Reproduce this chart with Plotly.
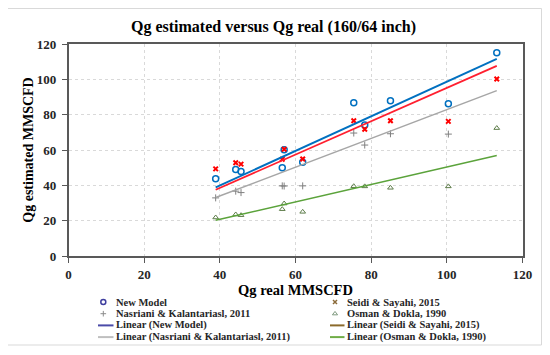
import plotly.graph_objects as go

# ---------------- data ----------------
x_real = [38.9, 44.2, 45.6, 56.5, 57.0, 61.9, 75.4, 78.3, 85.1, 100.4, 113.2]
new_model = [43.7, 49.0, 47.9, 49.9, 60.2, 53.0, 86.8, 74.1, 87.9, 86.2, 115.1]
seidi = [49.3, 52.8, 52.0, 54.8, 60.4, 54.9, 76.6, 71.7, 76.6, 76.2, 100.2]
nasriani = [32.9, 36.7, 35.9, 39.7, 39.6, 39.7, 69.6, 62.8, 69.2, 69.0, None]
osman = [21.8, 23.5, 23.1, 26.5, 29.7, 25.0, 39.5, 39.4, 38.6, 39.4, 72.4]

trend_x = [38.9, 113.2]
trend_new = [38.8, 111.6]
trend_seidi = [37.5, 107.6]
trend_nasriani = [33.1, 93.6]
trend_osman = [20.2, 56.9]

series_names = ["New Model", "Seidi & Sayahi, 2015",
                "Nasriani & Kalantariasl, 2011", "Osman & Dokla, 1990"]
x_ticks = [0, 20, 40, 60, 80, 100, 120]
y_ticks = [0, 20, 40, 60, 80, 100, 120]

title_text = "Qg estimated versus Qg real (160/64 inch)"
x_title = "Qg real MMSCFD"
y_title = "Qg estimated MMSCFD"

# ---------------- styling ----------------
PAGE_MARGIN = 8          # default body margin of the html page
W, H = 550 - 2 * PAGE_MARGIN, 355 - 2 * PAGE_MARGIN
FONT = "Liberation Serif"
AX = "#595959"
CLEAR = "rgba(0,0,0,0)"

def fx(px):  # screen pixel -> paper fraction
    return (px - PAGE_MARGIN) / W

def fy(py):
    return (H - (py - PAGE_MARGIN)) / H

def gx(px):  # screen pixel -> overlay-axis pixel
    return px - PAGE_MARGIN

def gy(py):
    return py - PAGE_MARGIN

plot_l, plot_r, plot_t, plot_b = 68.5, 522.5, 44.0, 256.0

marker_styles = [
    dict(symbol="circle-open", size=6, color="#0070C0", line=dict(width=1.5, color="#0070C0")),
    dict(symbol="x-thin-open", size=4.5, color="#FF0000", line=dict(width=2, color="#FF0000")),
    dict(symbol="cross-thin-open", size=5, color="#808080", line=dict(width=1, color="#808080")),
    dict(symbol="triangle-up-open", size=5, color="#5E7D4A", line=dict(width=1, color="#5E7D4A")),
]
line_styles = [
    dict(color="#0070C0", width=2),
    dict(color="#FF1F2F", width=1.8),
    dict(color="#A6A6A6", width=1.5),
    dict(color="#5BA33B", width=1.5),
]

fig = go.Figure()

series_values = [new_model, seidi, nasriani, osman]
trend_values = [trend_new, trend_seidi, trend_nasriani, trend_osman]

for name, vals, ms in zip(series_names, series_values, marker_styles):
    fig.add_trace(go.Scatter(x=x_real, y=vals, mode="markers", name=name,
                             marker=ms, showlegend=False))
for name, vals, ls in zip(series_names, trend_values, line_styles):
    fig.add_trace(go.Scatter(x=trend_x, y=vals, mode="lines", name="Linear (" + name + ")",
                             line=ls, showlegend=False))

# ---------------- legend (2 columns x 4 rows, compact like the original) ----------------
legend_marker_styles = [
    dict(symbol="circle-open", size=5, color="#3F3F9F", line=dict(width=1.5, color="#3F3F9F")),
    dict(symbol="x-thin-open", size=4, color="#8B6B3A", line=dict(width=1.5, color="#8B6B3A")),
    dict(symbol="cross-thin-open", size=4, color="#8C8C8C", line=dict(width=1, color="#8C8C8C")),
    dict(symbol="triangle-up-open", size=4.5, color="#7F9A7F", line=dict(width=1, color="#7F9A7F")),
]
legend_line_colors = ["#4B4BA8", "#8B6A2B", "#BFBFBF", "#70AD47"]

legend_entries = []
for i in range(4):
    legend_entries.append(("marker", series_names[i], i))
for i in range(4):
    legend_entries.append(("line", "Linear (" + series_names[i] + ")", i))

col_marker_x = [103.3, 335.0]
col_line_x = [(98.0, 113.5), (330.0, 344.5)]
col_text_x = [115.0, 346.0]
row_y = [302.0, 313.7, 325.4, 337.1]

for k, (kind, label, i) in enumerate(legend_entries):
    row, col = divmod(k, 2)
    yy = row_y[row]
    if kind == "marker":
        fig.add_trace(go.Scatter(x=[gx(col_marker_x[col])], y=[gy(yy)], mode="markers",
                                 marker=legend_marker_styles[i], xaxis="x2", yaxis="y2",
                                 showlegend=False, hoverinfo="skip"))
    else:
        x0, x1 = col_line_x[col]
        fig.add_trace(go.Scatter(x=[gx(x0), gx(x1)], y=[gy(yy), gy(yy)], mode="lines",
                                 line=dict(color=legend_line_colors[i], width=2),
                                 xaxis="x2", yaxis="y2", showlegend=False, hoverinfo="skip"))
    fig.add_annotation(x=fx(col_text_x[col]), y=fy(yy), xref="paper", yref="paper",
                       text="<b>" + label + "</b>", showarrow=False,
                       xanchor="left", yanchor="middle", borderpad=0,
                       font=dict(family=FONT, size=10.5, color="#262626"))

# chart-area border
fig.add_shape(type="rect", xref="paper", yref="paper",
              x0=fx(7.5), x1=fx(541.5), y0=fy(345), y1=fy(8.5),
              line=dict(color="#D9D9D9", width=1), layer="below")

axis_common = dict(
    showline=True, linecolor=AX, linewidth=1.5, mirror=True,
    ticks="outside", ticklen=5, tickcolor=AX, tickwidth=1,
    showgrid=True, gridcolor="#D9D9D9", griddash="dot", gridwidth=1,
    zeroline=False, automargin=False,
    tickfont=dict(family=FONT, size=13, color="#262626"),
)

fig.update_layout(
    width=W, height=H,
    margin=dict(l=0, r=0, t=0, b=0),
    paper_bgcolor="white", plot_bgcolor=CLEAR,
    showlegend=False,
    title=dict(text="<b>" + title_text + "</b>", x=fx(273.5), y=fy(26),
               xanchor="center", yanchor="middle", automargin=False,
               font=dict(family=FONT, size=16, color="#000000")),
    xaxis=dict(domain=[fx(plot_l), fx(plot_r)], range=[0, 120],
               tickvals=x_ticks, ticktext=["<b>%d</b>" % v for v in x_ticks],
               ticklabelstandoff=1,
               title=dict(text="<b>" + x_title + "</b>", standoff=0,
                          font=dict(family=FONT, size=14.5, color="#000000")),
               anchor="y", **axis_common),
    yaxis=dict(domain=[fy(plot_b), fy(plot_t)], range=[0, 120],
               tickvals=y_ticks, ticktext=["<b>%d</b>" % v for v in y_ticks],
               ticklabelstandoff=3,
               title=dict(text="<b>" + y_title + "</b>", standoff=0,
                          font=dict(family=FONT, size=14, color="#000000")),
               anchor="x", **axis_common),
    xaxis2=dict(domain=[0, 1], range=[0, W], visible=False, anchor="y2", fixedrange=True),
    yaxis2=dict(domain=[0, 1], range=[H, 0], visible=False, anchor="x2", fixedrange=True),
)

fig.write_html("out.html")
